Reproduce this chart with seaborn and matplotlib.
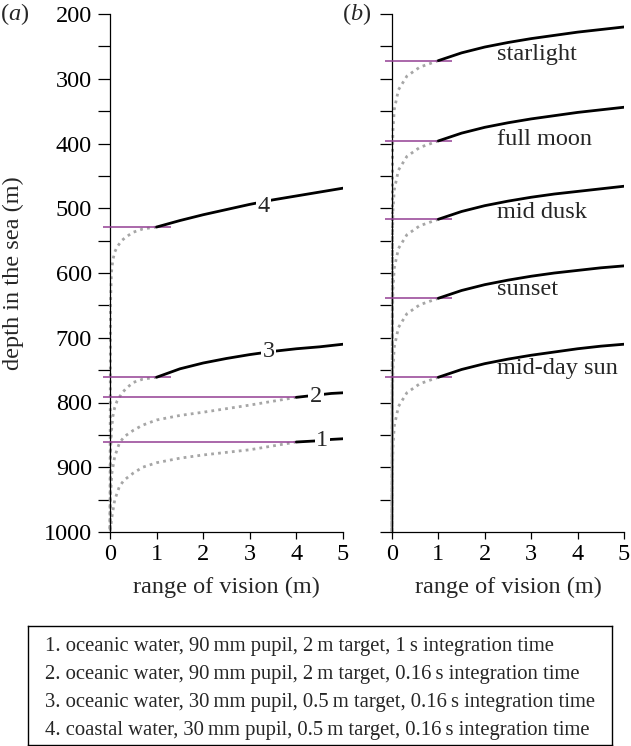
import numpy as np
import pandas as pd
import matplotlib
matplotlib.use('Agg')
import matplotlib.pyplot as plt
import seaborn as sns

sns.set_theme(style='ticks')
plt.rcParams['font.family'] = ['Liberation Serif', 'DejaVu Serif']
plt.rcParams['mathtext.fontset'] = 'custom'
plt.rcParams['mathtext.rm'] = 'Liberation Serif'
plt.rcParams['mathtext.it'] = 'Liberation Serif:italic'

BLACK = '#000000'
GREY = '#a6a6a6'
MAGENTA = '#933e93'

# ── data ─────────────────────────────────────────────────────────────────────
# solid part of each curve (range of vision, m -> depth, m)
R_SOLID = [1, 1.5, 2, 2.5, 3, 3.5, 4, 4.5, 5]
R_SOLID_FAR = [4, 4.25, 4.5, 4.75, 5]

# panel (a): four viewing conditions
A4_SOLID = [529, 519, 510, 502, 494, 487, 481, 475, 469]
A3_SOLID = [761, 748, 739, 732, 726, 721, 717, 714, 710]
A2_SOLID = [792, 790, 788, 786, 785]
A1_SOLID = [861, 860, 859, 857, 856]

R_DOT_NEAR = [1.0, 0.7, 0.5, 0.35, 0.25, 0.15, 0.1, 0.06, 0.03, 0.01, 0.0]
A4_DOT = [529, 532, 537, 544, 550, 560, 568, 580, 600, 650, 1000]
A3_DOT = [761, 764, 769, 778, 786, 798, 808, 822, 845, 880, 1000]

R_DOT_FAR = [4.0, 3.0, 2.0, 1.5, 1.0, 0.7, 0.5, 0.3, 0.2, 0.1, 0.04, 0.01, 0.0]
A2_DOT = [792, 804, 815, 820, 827, 835, 843, 853, 863, 884, 909, 945, 1000]
A1_DOT = [861, 873, 881, 886, 893, 900, 909, 920, 930, 951, 977, 995, 1000]

A_THRESH = [529, 761, 792, 861]          # magenta marker depths
A_THRESH_END = [1.3, 1.3, 4.1, 4.1]      # where each marker stops (m)
A_LABELS = ['4', '3', '2', '1']
A_LABEL_X = [3.3, 3.4, 4.42, 4.55]
A_LABEL_Y = [497, 722, 790, 858]

# panel (b): light levels, oceanic water
B_NAMES = ['starlight', 'full moon', 'mid dusk', 'sunset', 'mid-day sun']
B_SOLID = [
    [272, 260, 251, 244, 238, 233, 228, 224, 220],
    [396, 384, 375, 368, 362, 357, 352, 348, 344],
    [517, 505, 496, 489, 483, 478, 474, 470, 466],
    [639, 627, 618, 611, 605, 600, 596, 592, 589],
    [761, 749, 740, 733, 727, 722, 717, 713, 710],
]
R_DOT_B = [1.0, 0.6, 0.32, 0.14, 0.05, 0.02, 0.01, 0.0]
B_DOT = [
    [272, 282, 296, 317, 347, 380, 420, 1000],
    [396, 406, 420, 441, 471, 504, 544, 1000],
    [517, 527, 541, 562, 592, 625, 665, 1000],
    [639, 649, 663, 684, 714, 747, 787, 1000],
    [761, 771, 785, 806, 836, 869, 909, 1000],
]
B_THRESH = [272, 396, 517, 639, 761]
B_LABEL_Y = [263, 394, 507, 626, 747]

LEGEND_LINES = [
    '1. oceanic water, 90\u2009mm pupil, 2\u2009m target, 1\u2009s integration time',
    '2. oceanic water, 90\u2009mm pupil, 2\u2009m target, 0.16\u2009s integration time',
    '3. oceanic water, 30\u2009mm pupil, 0.5\u2009m target, 0.16\u2009s integration time',
    '4. coastal water, 30\u2009mm pupil, 0.5\u2009m target, 0.16\u2009s integration time',
]

FS = 17.5

W, H = 631, 746
fig = plt.figure(figsize=(W / 100, H / 100), dpi=100)
ax_a = fig.add_axes([110 / W, 1 - 532 / H, 233 / W, 518 / H])
ax_b = fig.add_axes([392 / W, 1 - 532 / H, 232 / W, 518 / H])


def curve(ax, r, d, **kw):
    df = pd.DataFrame({'r': r, 'd': d})
    sns.lineplot(data=df, x='r', y='d', ax=ax, sort=False, estimator=None,
                 legend=False, **kw)


def dotted(ax, r, d):
    curve(ax, r, d, color=GREY, linewidth=2.0, linestyle=(0, (1, 1.5)),
          zorder=2, clip_on=False)


def solid(ax, r, d):
    curve(ax, r, d, color=BLACK, linewidth=2.0, zorder=4)


def style_axes(ax, labels=True):
    ax.set_xlim(0, 5)
    ax.set_ylim(1000, 200)
    ax.set_xticks(range(0, 6))
    ax.set_yticks(np.arange(200, 1001, 50))
    if labels:
        ax.set_yticklabels([str(v) if v % 100 == 0 else '' for v in range(200, 1001, 50)])
    else:
        ax.set_yticklabels([])
    ax.tick_params(axis='y', length=9, width=0.9, pad=4, labelsize=FS, colors=BLACK)
    ax.tick_params(axis='x', length=5, width=0.9, pad=4, labelsize=FS, colors=BLACK)
    for s in ['top', 'right']:
        ax.spines[s].set_visible(False)
    for s in ['left', 'bottom']:
        ax.spines[s].set_linewidth(0.9)
        ax.spines[s].set_color(BLACK)
    ax.set_xlabel('')
    ax.set_ylabel('')
    ax.text(0.5, -0.106, 'range of vision (m)', transform=ax.transAxes,
            ha='center', va='center', fontsize=FS)


# ── panel (a) ────────────────────────────────────────────────────────────────
dotted(ax_a, R_DOT_NEAR, A4_DOT)
dotted(ax_a, R_DOT_NEAR, A3_DOT)
dotted(ax_a, R_DOT_FAR, A2_DOT)
dotted(ax_a, R_DOT_FAR, A1_DOT)
ax_a.hlines(A_THRESH, -0.15, A_THRESH_END, color=MAGENTA, linewidth=1.1,
            zorder=3, clip_on=False)
solid(ax_a, R_SOLID, A4_SOLID)
solid(ax_a, R_SOLID, A3_SOLID)
solid(ax_a, R_SOLID_FAR, A2_SOLID)
solid(ax_a, R_SOLID_FAR, A1_SOLID)
for lab, x, y in zip(A_LABELS, A_LABEL_X, A_LABEL_Y):
    ax_a.text(x, y, lab, fontsize=FS, ha='center', va='center', zorder=5,
              bbox=dict(facecolor='white', edgecolor='none', pad=1.0))
style_axes(ax_a, labels=True)

# ── panel (b) ────────────────────────────────────────────────────────────────
for dots in B_DOT:
    dotted(ax_b, R_DOT_B, dots)
ax_b.hlines(B_THRESH, -0.15, 1.3, color=MAGENTA, linewidth=1.1, zorder=3,
            clip_on=False)
for sol in B_SOLID:
    solid(ax_b, R_SOLID, sol)
for name, y in zip(B_NAMES, B_LABEL_Y):
    ax_b.text(2.26, y, name, fontsize=FS, ha='left', va='center', zorder=5)
style_axes(ax_b, labels=False)

fig.text(13 / W, 1 - 273 / H, 'depth in the sea (m)', rotation=90,
         ha='center', va='center', fontsize=FS)
fig.text(15 / W, 1 - 14 / H, '($a$)', ha='center', va='center', fontsize=FS)
fig.text(357 / W, 1 - 14 / H, '($b$)', ha='center', va='center', fontsize=FS)

# ── key box ──────────────────────────────────────────────────────────────────
ax_k = fig.add_axes([28 / W, 1.5 / H, 584 / W, 119 / H])
ax_k.set_xticks([])
ax_k.set_yticks([])
for s in ax_k.spines.values():
    s.set_linewidth(1.0)
    s.set_color(BLACK)
for i, line in enumerate(LEGEND_LINES):
    ax_k.text(17 / 584, (119 - 21 - 28 * i) / 119, line, fontsize=14.9,
              ha='left', va='center', transform=ax_k.transAxes)

fig.savefig('out.png', dpi=100)
